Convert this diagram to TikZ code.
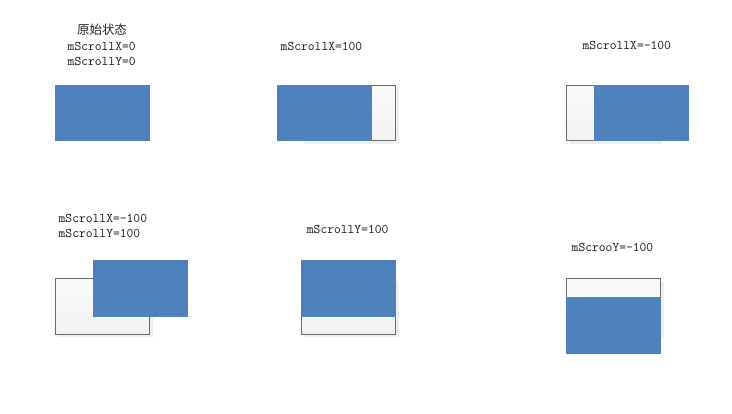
\documentclass[tikz,border=0pt]{standalone}
\usepackage{fontspec}
\newfontfamily\cjk{Noto Sans CJK SC}
\definecolor{contentblue}{HTML}{4F81BD}
\definecolor{framefill}{HTML}{F2F2F2}
\definecolor{frametop}{HTML}{FAFAFA}
\definecolor{frameline}{HTML}{6A6A6A}
\definecolor{shadowc}{HTML}{EFEFEF}
\begin{document}
\begin{tikzpicture}[x=1pt,y=-1pt,
  lbl/.style={font=\ttfamily\fontsize{13.2}{15}\selectfont, text=black!90, inner sep=0pt, anchor=base},
  cjklbl/.style={font=\cjk\fontsize{12.5}{15}\selectfont, text=black!85, inner sep=0pt, anchor=base},
  content/.style={fill=contentblue, draw=none},
  viewframe/.style={top color=frametop, middle color=framefill, bottom color=framefill, draw=frameline, line width=1pt},
  shadowbox/.style={fill=shadowc, draw=none}]
\useasboundingbox[fill=white] (0,0) rectangle (732,414);

% ---------- Panel 1 ----------
\node[cjklbl] (t1a) at (102,35) {原始状态};
\node[lbl] (t1b) at (101.7,51) {mScrollX=0};
\node[lbl] (t1c) at (101.7,65.7) {mScrollY=0};
\fill[content] (55,85) rectangle (150,141.5);

% ---------- Panel 2 ----------
\node[lbl] (t2) at (321.5,51) {mScrollX=100};
\fill[shadowbox] (303.5,88) rectangle (398.5,144.5);
\draw[viewframe] (301,85.5) rectangle (395.5,141);
\fill[content] (277,85) rectangle (372,141.5);

% ---------- Panel 3 ----------
\node[lbl] (t3) at (626.8,50) {mScrollX=-100};
\fill[shadowbox] (568.5,88) rectangle (663,144.5);
\draw[viewframe] (566.5,85.5) rectangle (661,141);
\fill[content] (594,85) rectangle (689,141.5);

% ---------- Panel 4 ----------
\node[lbl, anchor=base west] (t4a) at (58.5,223) {mScrollX=-100};
\node[lbl, anchor=base west] (t4b) at (58.5,237.3) {mScrollY=100};
\fill[shadowbox] (57.5,281) rectangle (152.5,337.5);
\draw[viewframe] (55.5,278.5) rectangle (149.5,334.5);
\fill[content] (93,260) rectangle (188,317);

% ---------- Panel 5 ----------
\node[lbl] (t5) at (347.7,233.3) {mScrollY=100};
\fill[shadowbox] (303.5,281) rectangle (398.5,337.5);
\draw[viewframe] (301.5,278.5) rectangle (395.5,334.5);
\fill[content] (301,260) rectangle (396,317);

% ---------- Panel 6 ----------
\node[lbl] (t6) at (612.5,251.7) {mScrooY=-100};
\fill[shadowbox] (568.5,281) rectangle (663.5,337.5);
\draw[viewframe] (566.5,278.5) rectangle (660.5,334.5);
\fill[content] (566,297) rectangle (661,354);
\end{tikzpicture}
\end{document}
